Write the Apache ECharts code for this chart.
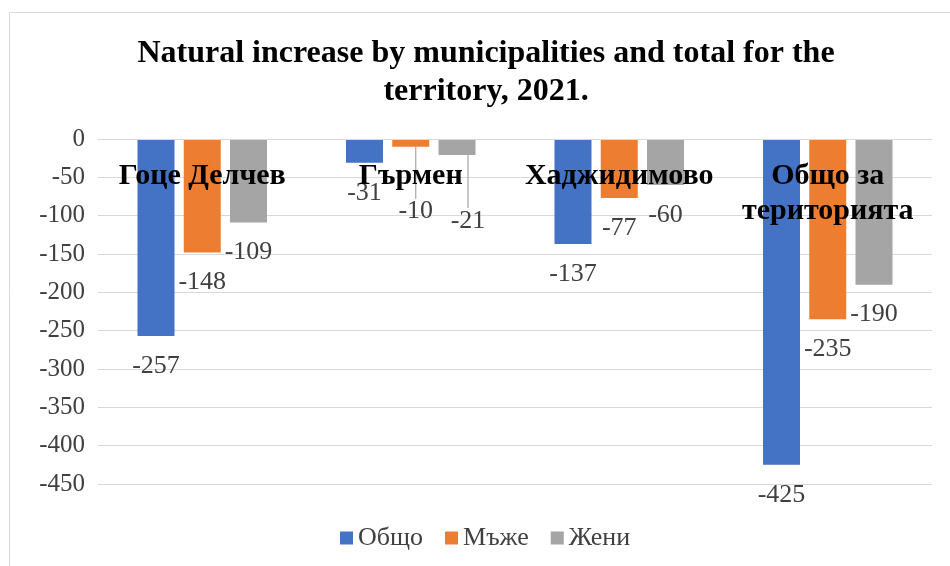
<!DOCTYPE html>
<html>
<head>
<meta charset="utf-8">
<script src="https://cdn.jsdelivr.net/npm/echarts@6/dist/echarts.min.js"></script>
<style>
html,body{margin:0;padding:0;background:#fff;}
#c{width:950px;height:566px;}
</style>
</head>
<body>
<div id="c"></div>
<script>
const categories = ['Гоце Делчев', 'Гърмен', 'Хаджидимово', 'Общо за\nтериторията'];
const seriesNames = ['Общо', 'Мъже', 'Жени'];
const totalValues = [-257, -31, -137, -425];
const maleValues = [-148, -10, -77, -235];
const femaleValues = [-109, -21, -60, -190];
const yTicks = { min: -450, max: 0, interval: 50 };

const FONT = '"Liberation Serif", "Times New Roman", serif';
const colors = ['#4472C4', '#ED7D31', '#A5A5A5'];

// label adjustments for the small Гърмен values (moved labels with leader lines)
const labelMoves = { '1-1': { dx: 5, dy: 35 }, '2-1': { dx: 11, dy: 36 } };

function makeSeries(name, values, idx) {
  return {
    name: name,
    type: 'bar',
    data: values.map(function (v, i) {
      return labelMoves[idx + '-' + i] ? { value: v, labelLine: { show: true } } : v;
    }),
    barWidth: 37,
    barGap: '25%',
    itemStyle: { color: colors[idx] },
    label: {
      show: true,
      position: 'bottom',
      distance: 17,
      color: '#404040',
      fontSize: 26,
      fontFamily: FONT
    },
    labelLine: { show: false, lineStyle: { color: '#A6A6A6', width: 1.2 } },
    labelLayout: function (p) {
      const m = labelMoves[p.seriesIndex + '-' + p.dataIndex];
      return m ? { dx: m.dx, dy: m.dy } : {};
    }
  };
}

const chart = echarts.init(document.getElementById('c'));
chart.setOption({
  backgroundColor: '#fff',
  animation: false,
  title: {
    text: 'Natural increase by municipalities and total for the\nterritory, 2021.',
    left: 486,
    top: 35,
    padding: 0,
    textAlign: 'center',
    textStyle: {
      fontFamily: FONT,
      fontWeight: 'bold',
      fontSize: 32,
      lineHeight: 38,
      color: '#000'
    }
  },
  legend: {
    data: seriesNames,
    left: 340,
    top: 525,
    padding: 0,
    itemWidth: 13,
    itemHeight: 13,
    itemGap: 22,
    icon: 'rect',
    textStyle: { fontFamily: FONT, fontSize: 26, color: '#404040' }
  },
  grid: { left: 98, right: 18, top: 139, bottom: 82, containLabel: false, outerBoundsMode: 'none' },
  xAxis: {
    type: 'category',
    position: 'top',
    z: 10,
    data: categories,
    axisLine: { show: true, lineStyle: { color: '#D9D9D9' } },
    axisTick: { show: false },
    axisLabel: {
      inside: true,
      margin: 20,
      fontFamily: FONT,
      fontWeight: 'bold',
      fontSize: 30,
      lineHeight: 35,
      color: '#000',
      interval: 0
    }
  },
  yAxis: {
    type: 'value',
    min: yTicks.min,
    max: yTicks.max,
    interval: yTicks.interval,
    axisLine: { show: false },
    axisTick: { show: false },
    splitLine: { lineStyle: { color: '#D9D9D9', width: 1 } },
    axisLabel: { margin: 13, fontFamily: FONT, fontSize: 25, color: '#404040' }
  },
  graphic: [{
    type: 'rect',
    shape: { x: 9.5, y: 12.5, width: 1000, height: 1000 },
    style: { fill: 'none', stroke: '#D9D9D9', lineWidth: 1 },
    silent: true
  }],
  series: [
    makeSeries(seriesNames[0], totalValues, 0),
    makeSeries(seriesNames[1], maleValues, 1),
    makeSeries(seriesNames[2], femaleValues, 2)
  ]
});
</script>
</body>
</html>
